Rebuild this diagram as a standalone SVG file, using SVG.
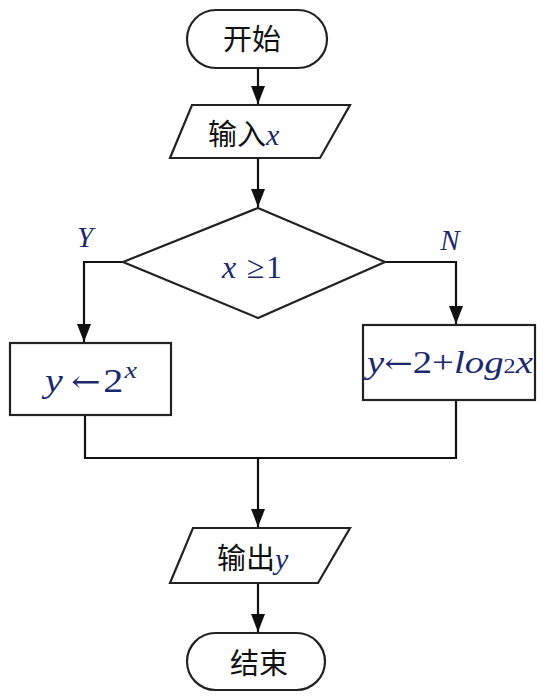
<svg xmlns="http://www.w3.org/2000/svg" width="552" height="698" viewBox="0 0 552 698">
<style>
.s{fill:#fff;stroke:#222;stroke-width:2.2}
.c{fill:none;stroke:#111;stroke-width:2.2}
.cn{font-family:"Noto Sans CJK SC","Noto Sans",sans-serif;font-size:29px;fill:#111}
.m{font-family:"Liberation Serif",serif;font-style:italic;fill:#1c2a6b}
.r{font-family:"Liberation Serif",serif;fill:#1c2a6b}
.ar{font-family:"DejaVu Serif",serif;font-style:normal}
</style>
<defs>
<marker id="ad" markerWidth="18" markerHeight="14" refX="18" refY="7" orient="auto" markerUnits="userSpaceOnUse" viewBox="0 0 18 14">
<path d="M0,0 L18,7 L0,14 Z" fill="#111"/>
</marker>
</defs>
<rect width="552" height="698" fill="#fff"/>
<g id="connectors">
<line class="c" x1="258" y1="68" x2="258" y2="104" marker-end="url(#ad)"/>
<line class="c" x1="258" y1="158" x2="258" y2="207" marker-end="url(#ad)"/>
<polyline class="c" points="123,262 84,262 84,342" marker-end="url(#ad)"/>
<polyline class="c" points="385,262 456,262 456,324" marker-end="url(#ad)"/>
<polyline class="c" points="85,415 85,458 456,458 456,400"/>
<line class="c" x1="258" y1="458" x2="258" y2="527" marker-end="url(#ad)"/>
<line class="c" x1="258" y1="583" x2="258" y2="632" marker-end="url(#ad)"/>
</g>
<g id="start">
<rect class="s" x="187" y="10" width="140" height="58" rx="29"/>
<text class="cn" x="252" y="50" text-anchor="middle">开始</text>
</g>
<g id="input">
<polygon class="s" points="192,105 350,105 320,158 170,158"/>
<text x="208" y="145"><tspan class="cn">输入</tspan><tspan class="m" font-size="30">x</tspan></text>
</g>
<g id="decision">
<polygon class="s" points="258,208 385,262 258,318 123,262"/>
<text x="222" y="278" class="r" font-size="32" textLength="60" lengthAdjust="spacing"><tspan class="m">x</tspan> ≥1</text>
</g>
<g id="labelY"><text class="m" x="85" y="247" font-size="29" text-anchor="middle">Y</text></g>
<g id="labelN"><text class="m" x="450" y="250" font-size="29" text-anchor="middle">N</text></g>
<g id="yes-box">
<rect class="s" x="10" y="343" width="161" height="72"/>
<text x="45" y="392" class="r" font-size="34" textLength="92" lengthAdjust="spacingAndGlyphs"><tspan class="m">y</tspan><tspan class="ar" font-size="30" dx="7">←</tspan><tspan dx="2">2</tspan><tspan class="m" font-size="24" dy="-14" dx="1">x</tspan></text>
</g>
<g id="no-box">
<rect class="s" x="363" y="325" width="172" height="75"/>
<text x="367" y="373" class="r" font-size="32" textLength="166" lengthAdjust="spacingAndGlyphs"><tspan class="m">y</tspan><tspan class="ar" font-size="28">←</tspan>2+<tspan class="m">log</tspan><tspan font-size="20">2</tspan><tspan class="m">x</tspan></text>
</g>
<g id="output">
<polygon class="s" points="193,528 350,528 318,583 170,583"/>
<text x="217" y="569"><tspan class="cn">输出</tspan><tspan class="m" font-size="30">y</tspan></text>
</g>
<g id="end">
<rect class="s" x="187" y="633" width="138" height="57" rx="28.5"/>
<text class="cn" x="259" y="674" text-anchor="middle">结束</text>
</g>
</svg>
